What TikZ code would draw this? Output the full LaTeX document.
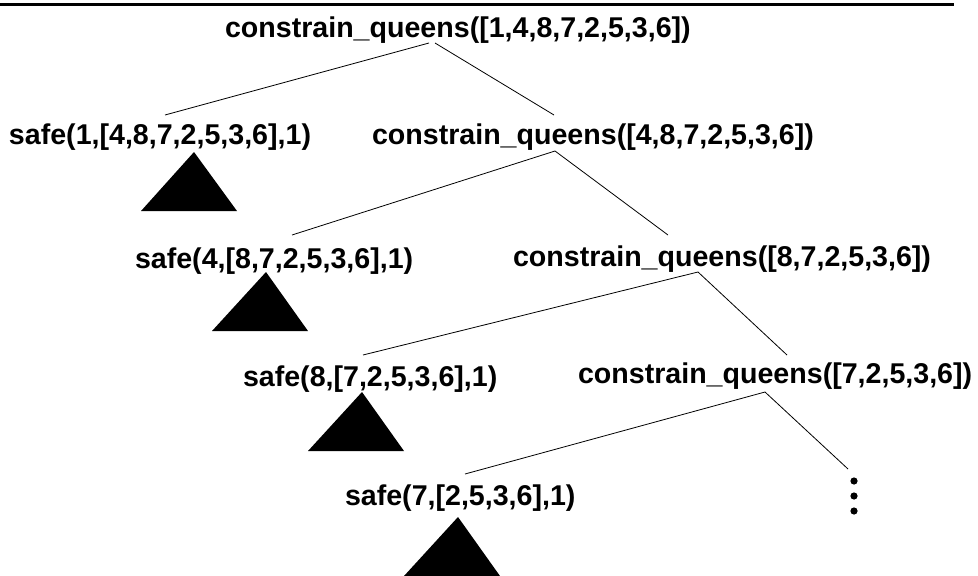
\documentclass[tikz,border=0pt]{standalone}
\usepackage{fontspec}
\setmainfont{Liberation Sans}
\usetikzlibrary{calc}
\begin{document}
\begin{tikzpicture}[x=1pt,y=-1pt,
  lbl/.style={inner sep=0pt,outer sep=0pt,anchor=base west,font=\fontsize{28.6}{34}\selectfont\bfseries},
  edge/.style={line width=0.8pt},
  tri/.style={fill=black}]
\useasboundingbox (0,0) rectangle (978,576);
\draw[line width=2.6pt] (0,4.5) -- (954,4.5);
\node[lbl] (root)  at (225,37)  {constrain\_queens([1,4,8,7,2,5,3,6])};
\node[lbl] (safe1) at (9,144)   {safe(1,[4,8,7,2,5,3,6],1)};
\node[lbl] (cq1)   at (372,144) {constrain\_queens([4,8,7,2,5,3,6])};
\node[lbl] (safe4) at (135,268) {safe(4,[8,7,2,5,3,6],1)};
\node[lbl] (cq2)   at (513,266) {constrain\_queens([8,7,2,5,3,6])};
\node[lbl] (safe8) at (243,386) {safe(8,[7,2,5,3,6],1)};
\node[lbl] (cq3)   at (578,383) {constrain\_queens([7,2,5,3,6])};
\node[lbl] (safe7) at (345,505) {safe(7,[2,5,3,6],1)};
\coordinate (more) at (848,469);
% connectors
\draw[edge] ($(root.base west)+(204,6)$) -- ($(safe1.base west)+(156,-29)$);
\draw[edge] ($(root.base west)+(210,6)$) -- ($(cq1.base west)+(182,-29)$);
\draw[edge] ($(cq1.base west)+(183,7)$) -- ($(safe4.base west)+(157,-33)$);
\draw[edge] ($(cq1.base west)+(183,7)$) -- ($(cq2.base west)+(155,-31)$);
\draw[edge] ($(cq2.base west)+(185,6)$) -- ($(safe8.base west)+(120,-31)$);
\draw[edge] ($(cq2.base west)+(185,6)$) -- ($(cq3.base west)+(209,-28)$);
\draw[edge] ($(cq3.base west)+(187,9)$) -- ($(safe7.base west)+(120,-31)$);
\draw[edge] ($(cq3.base west)+(187,9)$) -- (more);
% subtrees
\fill[tri] (194,152) -- (237,211) -- (141,211) -- cycle;
\fill[tri] (266,272) -- (308,331) -- (212,331) -- cycle;
\fill[tri] (362,392) -- (404,451) -- (308,451) -- cycle;
\fill[tri] (458,517) -- (500,576) -- (404,576) -- cycle;
% ellipsis
\fill (854,481) circle (3.6pt);
\fill (854,496) circle (3.6pt);
\fill (854,511) circle (3.6pt);
\end{tikzpicture}
\end{document}
